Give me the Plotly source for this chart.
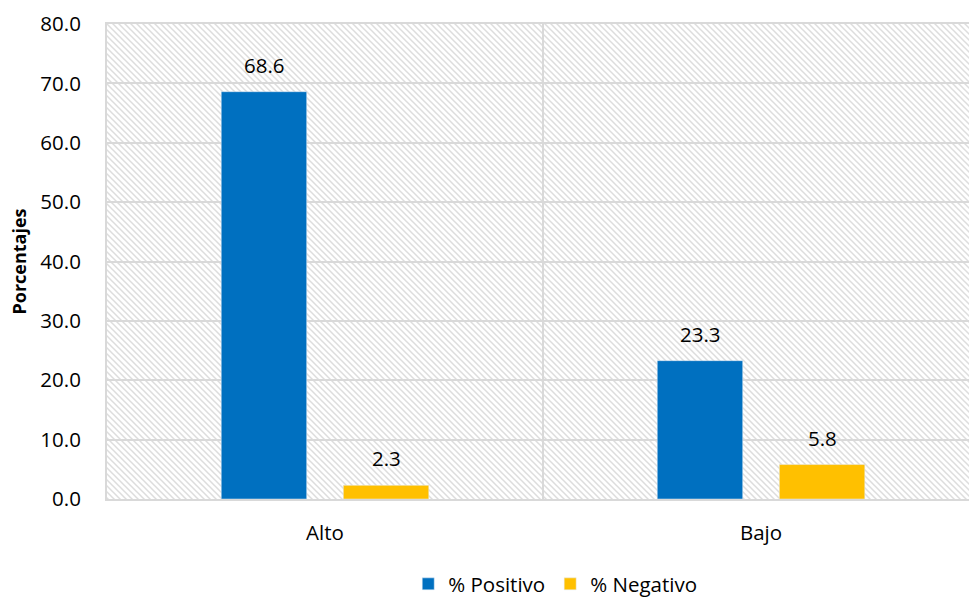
import base64
import plotly.graph_objects as go

categories = ["Alto", "Bajo"]
positivo = [68.6, 23.3]
negativo = [2.3, 5.8]
y_ticks = [0, 10, 20, 30, 40, 50, 60, 70, 80]

BLUE = "#0070C0"
YELLOW = "#FFC000"
GRID = "#d9d9d9"
FONT = "Open Sans"
FS = 20.5

W, H = 969, 599
ML, MR, MT, MB = 107, 0, 24, 100
PW, PH = W - ML - MR, H - MT - MB

svg = (
    f'<svg xmlns="http://www.w3.org/2000/svg" width="{PW}" height="{PH}" viewBox="0 0 {PW} {PH}">'
    '<defs><pattern id="p" width="6" height="6" patternUnits="userSpaceOnUse">'
    '<path d="M-1,-1 L7,7 M-1,5 L1,7 M5,-1 L7,1" stroke="#dddddd" stroke-width="1.5"/>'
    '</pattern></defs>'
    f'<rect width="{PW}" height="{PH}" fill="white"/>'
    f'<rect width="{PW}" height="{PH}" fill="url(#p)"/></svg>'
)
src = "data:image/svg+xml;base64," + base64.b64encode(svg.encode()).decode()

fig = go.Figure()
fig.add_trace(go.Bar(x=categories, y=positivo, name="% Positivo", marker_color=BLUE))
fig.add_trace(go.Bar(x=categories, y=negativo, name="% Negativo", marker_color=YELLOW))

# data labels
shift = 61
for vals, xs in ((positivo, -shift), (negativo, shift)):
    for c, v in zip(categories, vals):
        fig.add_annotation(x=c, y=v, xref="x", yref="y", text=f"{v:.1f}",
                           showarrow=False, xshift=xs, yanchor="bottom", yshift=11,
                           font=dict(family=FONT, size=FS, color="#000"))

fig.update_layout(
    width=W, height=H,
    margin=dict(l=ML, r=MR, t=MT, b=MB, autoexpand=False),
    paper_bgcolor="white", plot_bgcolor="white",
    barmode="group", bargap=0.44, bargroupgap=0.30,
    font=dict(family=FONT, size=FS, color="#000"),
    images=[dict(source=src, xref="paper", yref="paper", x=0, y=1, sizex=1, sizey=1,
                 sizing="stretch", xanchor="left", yanchor="top", layer="below")],
    legend=dict(orientation="h", x=0.52, xanchor="center", y=-0.179, yanchor="middle",
                font=dict(family=FONT, size=FS), itemwidth=30, traceorder="normal"),
)
fig.update_xaxes(type="category", range=[-0.5, 1.477], tickson="boundaries",
                 showgrid=True, gridcolor=GRID, gridwidth=2,
                 showline=True, linecolor=GRID, linewidth=2, mirror=True,
                 ticks="", ticklabelstandoff=14, automargin=False)
fig.update_yaxes(range=[0, 80], tickvals=y_ticks, tickformat=".1f",
                 showgrid=True, gridcolor=GRID, gridwidth=2,
                 showline=True, linecolor=GRID, linewidth=2, mirror=False,
                 zeroline=False, ticks="", ticklabelstandoff=20, automargin=False,
                 title=dict(text="<b>Porcentajes</b>", font=dict(family=FONT, size=18), standoff=9))

fig.write_html("out.html")
